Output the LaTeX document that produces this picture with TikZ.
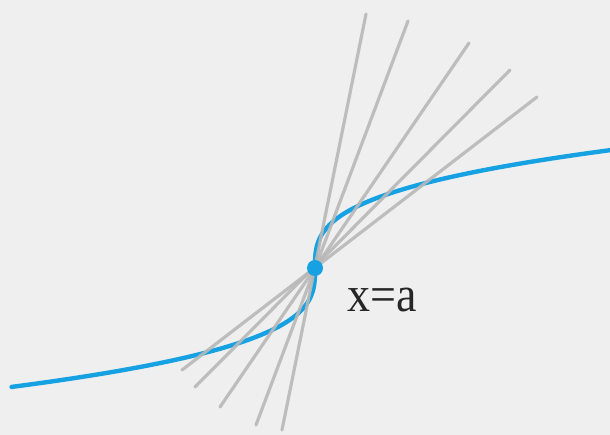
\documentclass[tikz,border=0pt]{standalone}
\usepackage{fontspec}
\setmainfont{Liberation Serif}
\usepackage{tikz}
\usetikzlibrary{positioning}
\definecolor{bgpage}{RGB}{239,239,239}
\definecolor{curveblue}{RGB}{22,162,226}
\definecolor{secgray}{RGB}{184,184,184}

\begin{document}
\begin{tikzpicture}[
    x=1pt, y=-1pt,
    curve/.style={curveblue, line width=4.4pt, line cap=round},
    secant/.style={secgray, line width=3.2pt, line cap=round, opacity=0.9},
    pt/.style={circle, fill=curveblue, inner sep=0pt, minimum size=16pt},
    lbl/.style={font=\fontsize{50}{50}\selectfont, inner sep=0pt, xscale=0.92,
                text=black!85}
]
    \fill[bgpage] (0,0) rectangle (610,435);
    \useasboundingbox (0,0) rectangle (610,435);

    % curve with a vertical tangent at x=a
    \draw[curve] plot[domain=-6.72:6.66, samples=80, smooth, variable=\t]
        ({315+\t*\t*\t}, {268-17.7*\t});

    % secant lines through the point
    \coordinate (t1) at (366,14);   \coordinate (b1) at (282,430);
    \coordinate (t2) at (408,21);   \coordinate (b2) at (256,425);
    \coordinate (t3) at (469,43);   \coordinate (b3) at (220,407);
    \coordinate (t4) at (510,70);   \coordinate (b4) at (195,387);
    \coordinate (t5) at (537,97);   \coordinate (b5) at (182,370);
    \foreach \i in {1,...,5}
        \draw[secant] (b\i) -- (t\i);

    \node[pt] (a) at (315,268) {};
    \node[lbl] (lab) at (382,300) {x=a};
\end{tikzpicture}
\end{document}
